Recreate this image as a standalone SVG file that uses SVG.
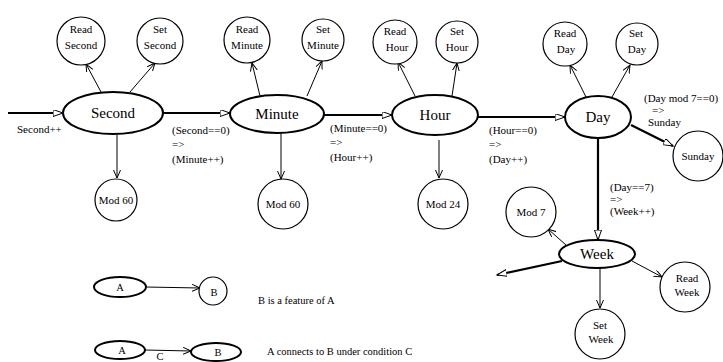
<svg xmlns="http://www.w3.org/2000/svg" width="723" height="362" viewBox="0 0 723 362">
<defs>
<marker id="ah" markerUnits="userSpaceOnUse" markerWidth="10" markerHeight="8" refX="8" refY="3.5" orient="auto">
<path d="M0,0 L8,3.5 L0,7" fill="none" stroke="#000" stroke-width="1"/>
</marker>
<marker id="ahb" markerUnits="userSpaceOnUse" markerWidth="12" markerHeight="8" refX="10" refY="3.5" orient="auto">
<path d="M0,0 L10,3.5 L0,7 Z" fill="#fff" stroke="#000" stroke-width="1"/>
</marker>
</defs>
<style>
text{font-family:"Liberation Serif","Times New Roman",serif;fill:#000}
.big{font-size:15px;text-anchor:middle}
.sm{font-size:11px;text-anchor:middle}
.lbl{font-size:11px}
.leg{font-size:10.5px}
.ell{fill:#fff;stroke:#000;stroke-width:2}
.cir{fill:#fff;stroke:#000;stroke-width:1.2}
.thin{stroke:#000;stroke-width:1;fill:none;marker-end:url(#ah)}
.thick{stroke:#000;stroke-width:2.2;fill:none;marker-end:url(#ahb)}
</style>
<rect width="723" height="362" fill="#fff"/>
<g id="connectors">
<line class="thick" x1="8" y1="113" x2="63" y2="113"/>
<line class="thick" x1="163" y1="113" x2="230" y2="113"/>
<line class="thick" x1="323" y1="115" x2="392" y2="115"/>
<line class="thick" x1="478" y1="117" x2="565" y2="117"/>
<line class="thick" x1="631" y1="125" x2="673" y2="146"/>
<line class="thick" x1="598" y1="138" x2="598" y2="240"/>
<line class="thick" x1="562" y1="261" x2="497" y2="275"/>
<line class="thin" x1="101" y1="92" x2="86" y2="64"/>
<line class="thin" x1="130" y1="92" x2="155" y2="63"/>
<line class="thin" x1="117" y1="135" x2="117" y2="178"/>
<line class="thin" x1="260" y1="96" x2="252" y2="63"/>
<line class="thin" x1="307" y1="96" x2="322" y2="61"/>
<line class="thin" x1="281" y1="133" x2="281" y2="179"/>
<line class="thin" x1="415" y1="96" x2="398" y2="62"/>
<line class="thin" x1="452" y1="96" x2="457" y2="63"/>
<line class="thin" x1="439" y1="140" x2="439" y2="178"/>
<line class="thin" x1="586" y1="97" x2="570" y2="65"/>
<line class="thin" x1="612" y1="97" x2="630" y2="65"/>
<line class="thin" x1="566" y1="245" x2="548" y2="229"/>
<line class="thin" x1="632" y1="261" x2="662" y2="277"/>
<line class="thin" x1="600" y1="268" x2="600" y2="308"/>
<line class="thin" x1="146" y1="287" x2="200" y2="288"/>
<line class="thin" x1="145" y1="350" x2="191" y2="351"/>
</g>
<g id="edge-labels">
<text class="lbl" x="17" y="133">Second++</text>
<text class="lbl" x="172" y="134">(Second==0)</text>
<text class="lbl" x="172" y="148">=&gt;</text>
<text class="lbl" x="172" y="163">(Minute++)</text>
<text class="lbl" x="330" y="132">(Minute==0)</text>
<text class="lbl" x="330" y="146">=&gt;</text>
<text class="lbl" x="330" y="161">(Hour++)</text>
<text class="lbl" x="489" y="134">(Hour==0)</text>
<text class="lbl" x="489" y="148">=&gt;</text>
<text class="lbl" x="489" y="163">(Day++)</text>
<text class="lbl" x="644" y="102">(Day mod 7==0)</text>
<text class="lbl" x="652" y="114">=&gt;</text>
<text class="lbl" x="648" y="126">Sunday</text>
<text class="lbl" x="610" y="191">(Day==7)</text>
<text class="lbl" x="610" y="203">=&gt;</text>
<text class="lbl" x="610" y="215">(Week++)</text>
</g>
<g id="second"><ellipse class="ell" cx="113" cy="113" rx="50" ry="21"/><text class="big" x="113" y="118">Second</text></g>
<g id="read-second"><circle class="cir" cx="81" cy="41" r="24"/><text class="sm" x="81" y="33">Read</text><text class="sm" x="81" y="49">Second</text></g>
<g id="set-second"><circle class="cir" cx="160" cy="41" r="23"/><text class="sm" x="160" y="33">Set</text><text class="sm" x="160" y="49">Second</text></g>
<g id="mod60-a"><circle class="cir" cx="116" cy="200" r="21"/><text class="sm" x="116" y="204">Mod 60</text></g>
<g id="minute"><ellipse class="ell" cx="277" cy="114" rx="47" ry="19"/><text class="big" x="277" y="119">Minute</text></g>
<g id="read-minute"><circle class="cir" cx="247" cy="40" r="23"/><text class="sm" x="247" y="33">Read</text><text class="sm" x="247" y="49">Minute</text></g>
<g id="set-minute"><circle class="cir" cx="323" cy="40" r="21"/><text class="sm" x="323" y="33">Set</text><text class="sm" x="323" y="49">Minute</text></g>
<g id="mod60-b"><circle class="cir" cx="283" cy="204" r="25"/><text class="sm" x="283" y="208">Mod 60</text></g>
<g id="hour"><ellipse class="ell" cx="435" cy="115" rx="43" ry="20"/><text class="big" x="435" y="120">Hour</text></g>
<g id="read-hour"><circle class="cir" cx="395" cy="42" r="22"/><text class="sm" x="395" y="35">Read</text><text class="sm" x="397" y="51">Hour</text></g>
<g id="set-hour"><circle class="cir" cx="457" cy="42" r="21"/><text class="sm" x="457" y="35">Set</text><text class="sm" x="457" y="51">Hour</text></g>
<g id="mod24"><circle class="cir" cx="443" cy="204" r="25"/><text class="sm" x="443" y="208">Mod 24</text></g>
<g id="day"><ellipse class="ell" cx="598" cy="117" rx="33" ry="21"/><text class="big" x="598" y="122">Day</text></g>
<g id="read-day"><circle class="cir" cx="565" cy="44" r="22"/><text class="sm" x="565" y="37">Read</text><text class="sm" x="566" y="53">Day</text></g>
<g id="set-day"><circle class="cir" cx="637" cy="44" r="21"/><text class="sm" x="636" y="37">Set</text><text class="sm" x="637" y="53">Day</text></g>
<g id="sunday"><circle class="cir" cx="698" cy="156" r="25"/><text class="sm" x="698" y="160">Sunday</text></g>
<g id="week"><ellipse class="ell" cx="597" cy="254" rx="38" ry="14"/><text class="big" x="597" y="259">Week</text></g>
<g id="mod7"><circle class="cir" cx="531" cy="212" r="25"/><text class="sm" x="531" y="216">Mod 7</text></g>
<g id="read-week"><circle class="cir" cx="685" cy="287" r="25"/><text class="sm" x="687" y="282">Read</text><text class="sm" x="687" y="296">Week</text></g>
<g id="set-week"><circle class="cir" cx="600" cy="334" r="25"/><text class="sm" x="600" y="329">Set</text><text class="sm" x="601" y="343">Week</text></g>
<g id="legend-a1"><ellipse class="ell" cx="120" cy="287" rx="26" ry="10"/><text class="leg" x="120" y="291" text-anchor="middle">A</text></g>
<g id="legend-b1"><circle class="cir" cx="213" cy="291" r="14"/><text class="leg" x="214" y="296" text-anchor="middle">B</text></g>
<g id="legend-a2"><ellipse class="ell" cx="120" cy="350" rx="25" ry="9"/><text class="leg" x="122" y="354" text-anchor="middle">A</text></g>
<g id="legend-b2"><ellipse class="ell" cx="216" cy="352" rx="25" ry="9"/><text class="leg" x="218" y="356" text-anchor="middle">B</text></g>
<g id="legend-text">
<text class="leg" x="258" y="304">B is a feature of A</text>
<text class="leg" x="160" y="360" text-anchor="middle">C</text>
<text class="leg" x="267" y="355">A connects to B under condition C</text>
</g>
</svg>
